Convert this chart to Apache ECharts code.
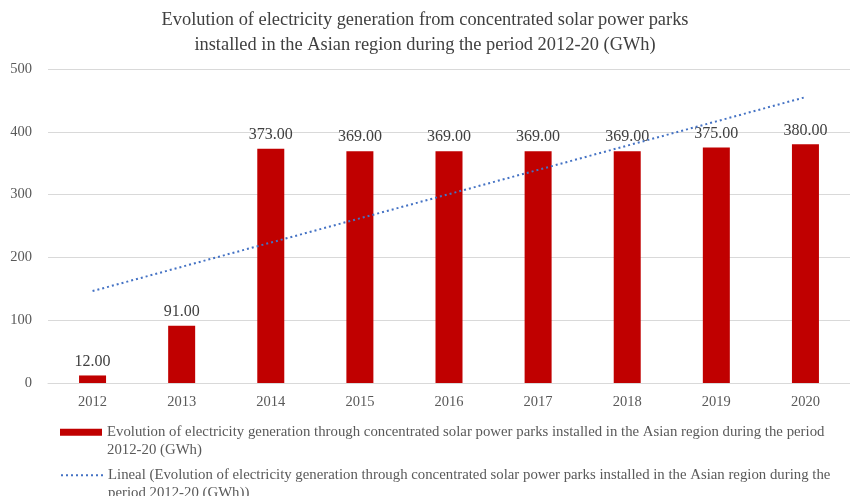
<!DOCTYPE html>
<html>
<head>
<meta charset="utf-8">
<script src="https://cdn.jsdelivr.net/npm/echarts@6/dist/echarts.min.js"></script>
<style>
  html, body { margin: 0; padding: 0; background: #fff; }
  #chart { width: 850px; height: 496px; }
</style>
</head>
<body>
<div id="chart"></div>
<script>
// Yearly generation (GWh) of concentrated solar power parks in Asia
const years = ['2012', '2013', '2014', '2015', '2016', '2017', '2018', '2019', '2020'];
const generation = [12, 91, 373, 369, 369, 369, 369, 375, 380];
const yTicks = [0, 100, 200, 300, 400, 500];

const barName = 'Evolution of electricity generation through concentrated solar power parks installed in the Asian region during the period 2012-20 (GWh)';
const trendName = 'Lineal (Evolution of electricity generation through concentrated solar power parks installed in the Asian region during the period 2012-20 (GWh))';

// Least-squares linear trend over the yearly values
function linearTrend(values) {
  const n = values.length;
  const mx = (n - 1) / 2;
  const my = values.reduce((a, b) => a + b, 0) / n;
  let sxy = 0, sxx = 0;
  values.forEach((v, i) => { sxy += (i - mx) * (v - my); sxx += (i - mx) * (i - mx); });
  const slope = sxy / sxx;
  return values.map((_, i) => my + slope * (i - mx));
}
const trend = linearTrend(generation);

const serif = '"Liberation Serif", "Times New Roman", serif';
const LH = 17.5;

// A blank first line keeps the legend symbol level with the first text line
const legendCommon = {
  orient: 'vertical',
  left: 60,
  padding: 0,
  itemWidth: 42,
  itemHeight: 7,
  textStyle: {
    fontFamily: serif,
    fontSize: 14.8,
    color: '#595959',
    lineHeight: LH
  }
};

const chart = echarts.init(document.getElementById('chart'), null, { renderer: 'canvas' });
chart.setOption({
  animation: false,
  backgroundColor: '#ffffff',
  title: {
    text: 'Evolution of electricity generation from concentrated solar power parks\ninstalled in the Asian region during the period 2012-20 (GWh)',
    left: 'center',
    top: 3,
    textStyle: {
      fontFamily: serif,
      fontSize: 18.4,
      fontWeight: 'normal',
      color: '#404040',
      lineHeight: 25,
      align: 'center'
    }
  },
  legend: [
    Object.assign({}, legendCommon, {
      top: 406,
      data: [{ name: barName, icon: 'rect' }],
      formatter: (name) => '\n' + name.replace(' 2012-20', '\n2012-20')
    }),
    Object.assign({}, legendCommon, {
      top: 449,
      data: [{ name: trendName }],
      itemStyle: { opacity: 0 },
      formatter: (name) => '\n' + name.replace(' period 2012', '\nperiod 2012')
    })
  ],
  grid: {
    left: 48,
    right: -12,
    top: 69,
    bottom: 113,
    containLabel: false
  },
  xAxis: {
    type: 'category',
    data: years,
    axisLine: { show: true, lineStyle: { color: '#d9d9d9', width: 1 } },
    axisTick: { show: false },
    axisLabel: {
      fontFamily: serif,
      fontSize: 14.5,
      color: '#595959',
      margin: 12
    }
  },
  yAxis: {
    type: 'value',
    min: yTicks[0],
    max: yTicks[yTicks.length - 1],
    interval: 100,
    axisLine: { show: false },
    axisTick: { show: false },
    splitLine: { lineStyle: { color: '#d9d9d9', width: 1 } },
    axisLabel: {
      fontFamily: serif,
      fontSize: 14.5,
      color: '#595959',
      margin: 16
    }
  },
  series: [
    {
      name: barName,
      type: 'bar',
      data: generation,
      barWidth: 27,
      itemStyle: { color: '#C00000' },
      label: {
        show: true,
        position: 'top',
        distance: 6,
        fontFamily: serif,
        fontSize: 16,
        color: '#404040',
        formatter: (p) => p.value.toFixed(2)
      },
      z: 2
    },
    {
      name: trendName,
      type: 'line',
      data: trend,
      symbol: 'none',
      silent: true,
      lineStyle: {
        color: '#4472C4',
        width: 2,
        type: [2, 3],
        cap: 'butt'
      },
      itemStyle: { color: '#4472C4' },
      z: 3
    }
  ]
});
</script>
</body>
</html>
